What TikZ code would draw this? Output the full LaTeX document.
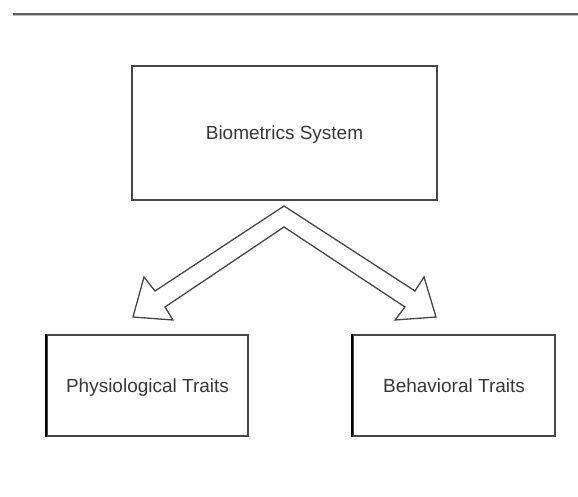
\documentclass[tikz,border=0pt]{standalone}
\usepackage{fontspec}
\setmainfont{Liberation Sans}
\definecolor{line_gray}{RGB}{70,70,70}
\definecolor{rule_gray}{RGB}{95,95,95}
\definecolor{rule_light}{RGB}{190,190,190}
\definecolor{text_gray}{RGB}{55,55,55}
\begin{document}
\begin{tikzpicture}[x=1pt,y=-1pt,line width=1.2pt]
    \tikzstyle{box}=[draw=line_gray, rectangle, inner sep=0pt, fill=none, text=text_gray, text depth=0pt, font=\fontsize{19}{22}\selectfont]
    \tikzstyle{trait}=[style=box, minimum width=201pt, minimum height=101pt]
    \tikzstyle{chevron}=[draw=line_gray, fill=white, line width=1.3pt, line join=miter]

    \useasboundingbox (0,0) rectangle (578,497);

    % rule across the top
    \draw[rule_gray, line width=1.5pt] (13,14) -- (578,14);
    \draw[rule_light, line width=0.8pt] (13,15.5) -- (578,15.5);

    \node[box, minimum width=305pt, minimum height=134pt] (sys) at (284.5,133) {Biometrics System};
    \node[trait] (phys) at (147.5,385.5) {Physiological Traits};
    \node[trait, minimum width=202pt] (behav) at (454,385.5) {Behavioral Traits};
    % heavier left edges on the lower boxes
    \draw[black, line width=2pt] (phys.north west) -- (phys.south west);
    \draw[black, line width=2pt] (behav.north west) -- (behav.south west);

    % split arrow: one outline for both branches
    \coordinate (apex)  at (284,206);
    \coordinate (inner) at (284,227);
    \draw[chevron] (apex) -- (155,291) -- (144,277) -- (133,317) -- (173,320) -- (165,307)
        -- (inner) -- (405,307) -- (395,320) -- (436,317) -- (424,277) -- (415,291) -- cycle;
\end{tikzpicture}
\end{document}
